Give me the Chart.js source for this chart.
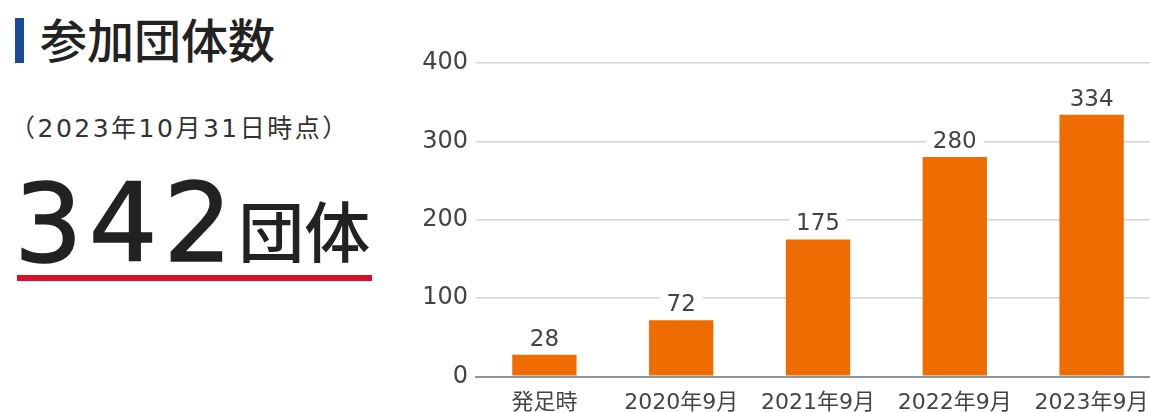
<!DOCTYPE html>
<html lang="ja">
<head>
<meta charset="utf-8">
<title>参加団体数</title>
<script src="https://cdn.jsdelivr.net/npm/chart.js@4.4.0/dist/chart.umd.min.js"></script>
<style>
    html, body {
        margin: 0;
        padding: 0;
        background: #fff;
    }
    body {
        width: 1150px;
        height: 412px;
        position: relative;
        overflow: hidden;
        font-family: 'Noto Sans CJK JP', sans-serif;
        color: #222;
    }
    .title-mark {
        position: absolute;
        left: 15px;
        top: 18px;
        width: 9px;
        height: 45px;
        background: #1b4a9a;
    }
    .title {
        position: absolute;
        left: 40px;
        top: 14px;
        margin: 0;
        font-size: 47px;
        font-weight: 500;
        line-height: 1;
        color: #222;
    }
    .as-of {
        position: absolute;
        left: 10px;
        top: 116px;
        font-family: 'DejaVu Sans', 'Noto Sans CJK JP', sans-serif;
        font-size: 25px;
        letter-spacing: 2.5px;
        line-height: 1;
        color: #333;
    }
    .total {
        position: absolute;
        left: 14px;
        top: 170px;
        line-height: 1;
        white-space: nowrap;
    }
    .total .num {
        font-family: 'DejaVu Sans', sans-serif;
        font-size: 108px;
        letter-spacing: 6px;
        -webkit-text-stroke: 1.5px #222;
        color: #222;
    }
    .total .unit {
        position: relative;
        top: -4px;
        font-size: 66px;
        font-weight: 500;
        color: #222;
    }
    .underline {
        position: absolute;
        left: 17px;
        top: 275px;
        width: 355px;
        height: 6px;
        background: #d3112b;
    }
    .chart-box {
        position: absolute;
        left: 400px;
        top: 40px;
        width: 760px;
        height: 381px;
    }
</style>
</head>
<body>
<div class="title-mark"></div>
<h2 class="title">参加団体数</h2>
<div class="as-of">（2023年10月31日時点）</div>
<div class="total"><span class="num">342</span><span class="unit">団体</span></div>
<div class="underline"></div>

<div class="chart-box">
    <canvas id="groupChart"></canvas>
</div>

<script>
// groups taking part, per point in time
const periods = ['発足時', '2020年9月', '2021年9月', '2022年9月', '2023年9月'];
const groupCounts = [28, 72, 175, 280, 334];
const yTicks = [0, 100, 200, 300, 400];

const barColor = '#ee6c00';
const textFont = "'DejaVu Sans', 'Noto Sans CJK JP', sans-serif";

// value above each bar, on a white patch so the grid line breaks around it
const valueLabels = {
    id: 'valueLabels',
    afterDatasetsDraw(chart) {
        const ctx = chart.ctx;
        const meta = chart.getDatasetMeta(0);
        ctx.save();
        ctx.font = '23px ' + textFont;
        ctx.textAlign = 'center';
        ctx.textBaseline = 'alphabetic';
        meta.data.forEach((bar, i) => {
            const text = String(groupCounts[i]);
            const w = ctx.measureText(text).width;
            const baseY = bar.y - 9;
            ctx.fillStyle = '#fff';
            ctx.fillRect(bar.x - w / 2 - 7, baseY - 21, w + 14, 24);
            ctx.fillStyle = '#444';
            ctx.fillText(text, bar.x, baseY);
        });
        ctx.restore();
    }
};

const ctx = document.getElementById('groupChart').getContext('2d');
const chart = new Chart(ctx, {
    type: 'bar',
    data: {
        labels: periods,
        datasets: [{
            data: groupCounts,
            backgroundColor: barColor,
            borderWidth: 0,
            barPercentage: 0.47,
            categoryPercentage: 1
        }]
    },
    options: {
        responsive: true,
        maintainAspectRatio: false,
        animation: false,
        layout: {
            padding: { top: 23, right: 0, bottom: 0, left: 0 }
        },
        plugins: {
            legend: { display: false },
            tooltip: { enabled: false }
        },
        scales: {
            x: {
                grid: { display: false },
                border: { display: true, color: '#8e959c', width: 2 },
                ticks: {
                    color: '#444',
                    padding: 5,
                    maxRotation: 0,
                    font: { family: textFont, size: 22 }
                }
            },
            y: {
                min: 0,
                max: 400,
                afterFit(scale) {
                    scale.width = 76;
                },
                afterBuildTicks(scale) {
                    scale.ticks = yTicks.map(v => ({ value: v }));
                },
                border: { display: false },
                grid: {
                    drawTicks: false,
                    color: (c) => c.tick && c.tick.value === 0 ? '#8e959c' : '#d4d4d4',
                    lineWidth: (c) => c.tick && c.tick.value === 0 ? 2 : 1.5
                },
                ticks: {
                    color: '#444',
                    padding: 8,
                    font: { family: textFont, size: 24 }
                }
            }
        }
    },
    plugins: [valueLabels]
});
</script>
</body>
</html>
